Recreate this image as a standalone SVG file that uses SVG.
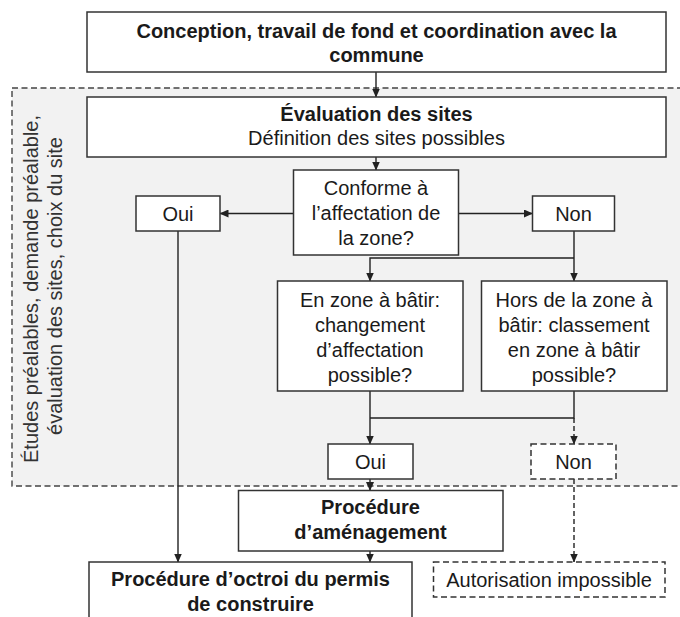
<svg xmlns="http://www.w3.org/2000/svg" width="680" height="617" viewBox="0 0 680 617">
<defs>
<marker id="ah" markerUnits="userSpaceOnUse" markerWidth="9" markerHeight="8" refX="8.5" refY="4" orient="auto">
<path d="M0,0 L9,4 L0,8 z" fill="#222"/>
</marker>
<style>
.bg{fill:#f2f2f2;stroke:#444;stroke-width:1.4;stroke-dasharray:6 3.5}
.box{fill:#fff;stroke:#333;stroke-width:1.5}
.dbox{fill:#fff;stroke:#333;stroke-width:1.5;stroke-dasharray:6 3.5}
.t{font-family:"Liberation Sans",Arial,sans-serif;font-size:20px;fill:#1a1a1a;text-anchor:middle}
.b{font-weight:bold}
.side{font-family:"Liberation Sans",Arial,sans-serif;font-size:20px;fill:#333;text-anchor:middle}
.c{fill:none;stroke:#222;stroke-width:1.4}
.cd{fill:none;stroke:#222;stroke-width:1.4;stroke-dasharray:5 3}
.a{marker-end:url(#ah)}
</style>
</defs>

<g id="zone">
<rect class="bg" x="12" y="88" width="680" height="398"/>
<text class="side" transform="translate(37.5,289) rotate(-90)">Études préalables, demande préalable,</text>
<text class="side" transform="translate(62,286) rotate(-90)">évaluation des sites, choix du site</text>
</g>

<g id="connectors">
<path class="c a" d="M376,72 V97"/>
<path class="c a" d="M376,157 V170"/>
<path class="c a" d="M293.5,213.5 H220"/>
<path class="c a" d="M458.5,213.5 H532.5"/>
<path class="c a" d="M574,231 V281"/>
<path class="c a" d="M574,258 H370 V281"/>
<path class="c a" d="M370,391 V444"/>
<path class="c" d="M574,391 V418 H370"/>
<path class="cd a" d="M574,418 V444"/>
<path class="c a" d="M370,479 V490.5"/>
<path class="c a" d="M370,551 V562"/>
<path class="c a" d="M178,231 V562"/>
<path class="cd a" d="M574,479 V562"/>
</g>

<g id="conception">
<rect class="box" x="87" y="12" width="579" height="60"/>
<text class="t b" x="376.5" y="38">Conception, travail de fond et coordination avec la</text>
<text class="t b" x="376.5" y="62">commune</text>
</g>

<g id="evaluation">
<rect class="box" x="87" y="97" width="579" height="60"/>
<text class="t b" x="376.5" y="121">Évaluation des sites</text>
<text class="t" x="376.5" y="145">Définition des sites possibles</text>
</g>

<g id="conforme">
<rect class="box" x="293.5" y="170" width="165" height="85"/>
<text class="t" x="376" y="195">Conforme à</text>
<text class="t" x="376" y="220">l’affectation de</text>
<text class="t" x="376" y="245">la zone?</text>
</g>

<g id="oui1">
<rect class="box" x="136" y="196" width="84" height="35"/>
<text class="t" x="178" y="220.5">Oui</text>
</g>

<g id="non1">
<rect class="box" x="532.5" y="196" width="82" height="35"/>
<text class="t" x="573.5" y="220.5">Non</text>
</g>

<g id="enzone">
<rect class="box" x="277.5" y="281" width="185.5" height="110"/>
<text class="t" x="370" y="307">En zone à bâtir:</text>
<text class="t" x="370" y="332">changement</text>
<text class="t" x="370" y="357">d’affectation</text>
<text class="t" x="370" y="382">possible?</text>
</g>

<g id="hors">
<rect class="box" x="481.5" y="281" width="185.5" height="110"/>
<text class="t" x="574" y="307">Hors de la zone à</text>
<text class="t" x="574" y="332">bâtir: classement</text>
<text class="t" x="574" y="357">en zone à bâtir</text>
<text class="t" x="574" y="382">possible?</text>
</g>

<g id="oui2">
<rect class="box" x="328" y="444" width="85" height="35"/>
<text class="t" x="370.5" y="468.5">Oui</text>
</g>

<g id="non2">
<rect class="dbox" x="531" y="444" width="85" height="35"/>
<text class="t" x="573.5" y="468.5">Non</text>
</g>

<g id="amenagement">
<rect class="box" x="238.5" y="490.5" width="264.5" height="60.5"/>
<text class="t b" x="370.5" y="514">Procédure</text>
<text class="t b" x="370.5" y="539">d’aménagement</text>
</g>

<g id="permis">
<rect class="box" x="89" y="562" width="323" height="80"/>
<text class="t b" x="250.5" y="586">Procédure d’octroi du permis</text>
<text class="t b" x="250.5" y="611">de construire</text>
</g>

<g id="impossible">
<rect class="dbox" x="433.5" y="562" width="231.5" height="35"/>
<text class="t" x="549" y="587">Autorisation impossible</text>
</g>
</svg>
